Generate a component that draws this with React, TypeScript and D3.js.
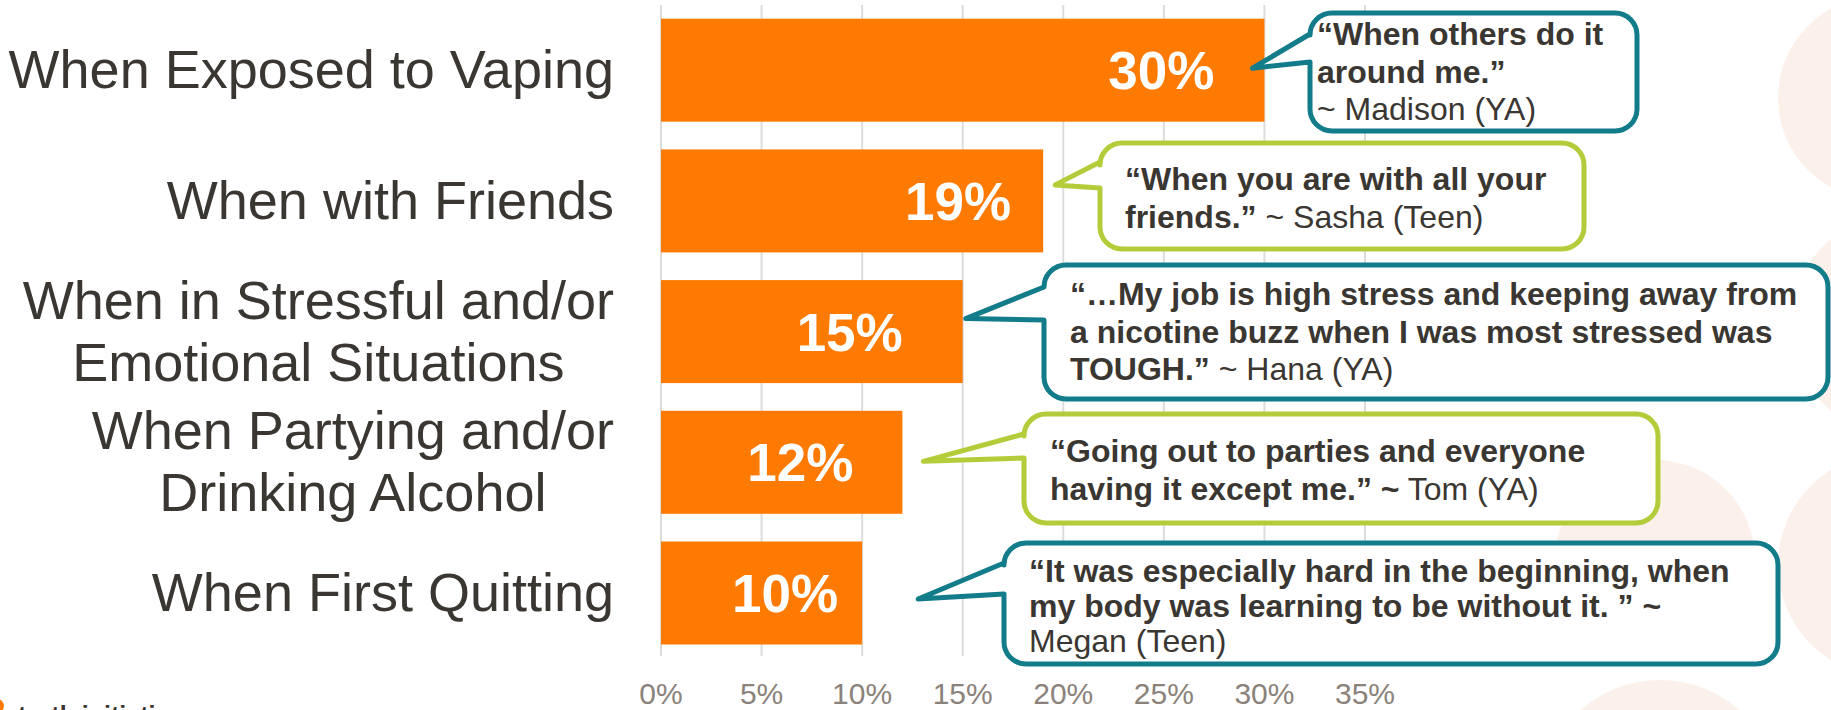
import React from "react";
import * as d3 from "d3";

// ---------- data ----------
const categories: string[][] = [
  ["When Exposed to Vaping"],
  ["When with Friends"],
  ["When in Stressful and/or", "Emotional Situations"],
  ["When Partying and/or", "Drinking Alcohol"],
  ["When First Quitting"],
];
const values = [30, 19, 15, 12, 10];
const tickValues = [0, 5, 10, 15, 20, 25, 30, 35];
const tickLabels = ["0%", "5%", "10%", "15%", "20%", "25%", "30%", "35%"];

type Seg = { t: string; b: boolean };
const quote1: Seg[][] = [
  [{ t: "\u201CWhen others do it", b: true }],
  [{ t: "around me.\u201D", b: true }],
  [{ t: "~ Madison (YA)", b: false }],
];
const quote2: Seg[][] = [
  [{ t: "\u201CWhen you are with all your", b: true }],
  [{ t: "friends.\u201D", b: true }, { t: " ~ Sasha (Teen)", b: false }],
];
const quote3: Seg[][] = [
  [{ t: "\u201C\u2026My job is high stress and keeping away from", b: true }],
  [{ t: "a nicotine buzz when I was most stressed was", b: true }],
  [{ t: "TOUGH.\u201D", b: true }, { t: " ~ Hana (YA)", b: false }],
];
const quote4: Seg[][] = [
  [{ t: "\u201CGoing out to parties and everyone", b: true }],
  [{ t: "having it except me.\u201D ~", b: true }, { t: " Tom (YA)", b: false }],
];
const quote5: Seg[][] = [
  [{ t: "\u201CIt was especially hard in the beginning, when", b: true }],
  [{ t: "my body was learning to be without it. \u201D ~", b: true }],
  [{ t: "Megan (Teen)", b: false }],
];
const quotes = [quote1, quote2, quote3, quote4, quote5];
const quoteColors = ["#137c8b", "#b3cc3a", "#137c8b", "#b3cc3a", "#137c8b"];

// ---------- layout ----------
const W = 1831;
const H = 710;
const FONT = "'Liberation Sans', Arial, Helvetica, sans-serif";
const TEXT = "#3a3632";
const ORANGE = "#ff7a00";

// callout boxes: [x0, y0, x1, y1], pointer base [yUpper, yLower], tip offset from bar end/center, text x, first baseline, line height
const calloutLayout = [
  { box: [1310, 13, 1637, 131], base: [34, 62], tip: [-12, -2], tx: 1317, ty: 45, lh: 37.5 },
  { box: [1100, 143, 1584, 249], base: [162, 188], tip: [12, -16], tx: 1125, ty: 190, lh: 38 },
  { box: [1044, 265, 1828, 399], base: [287, 320], tip: [3, -13], tx: 1070, ty: 305, lh: 37.5 },
  { box: [1024, 414, 1658, 523], base: [434, 458], tip: [21, -1], tx: 1050, ty: 462, lh: 38 },
  { box: [1004, 543, 1778, 664], base: [563, 594], tip: [56, 6], tx: 1029, ty: 582, lh: 35 },
];
const labelNudge = [-50, -32, -60, -49, -24];

const bgCircles = [
  { cx: 1880, cy: 98, r: 102 },
  { cx: 1900, cy: 325, r: 110 },
  { cx: 1655, cy: 560, r: 100 },
  { cx: 1890, cy: 565, r: 112 },
  { cx: 1660, cy: 800, r: 120 },
];

let measureCtx: CanvasRenderingContext2D | null = null;
function measure(text: string, font: string): number {
  if (!measureCtx) {
    const c = document.createElement("canvas");
    measureCtx = c.getContext("2d");
  }
  if (!measureCtx) return text.length * 25;
  measureCtx.font = font;
  return measureCtx.measureText(text).width;
}

function calloutPath(box: number[], base: number[], tip: number[], r: number) {
  const [x0, y0, x1, y1] = box;
  const p = d3.path();
  p.moveTo(x0 + r, y0);
  p.lineTo(x1 - r, y0);
  p.arcTo(x1, y0, x1, y0 + r, r);
  p.lineTo(x1, y1 - r);
  p.arcTo(x1, y1, x1 - r, y1, r);
  p.lineTo(x0 + r, y1);
  p.arcTo(x0, y1, x0, y1 - r, r);
  p.lineTo(x0, base[1]);
  p.lineTo(tip[0], tip[1]);
  p.lineTo(x0, base[0]);
  p.lineTo(x0, y0 + r);
  p.arcTo(x0, y0, x0 + r, y0, r);
  p.closePath();
  return p.toString();
}

export default function App() {
  const x = d3.scaleLinear().domain([0, 35]).range([661, 1365]);
  const y = d3
    .scaleBand<number>()
    .domain(d3.range(values.length))
    .range([18.7, 644.5])
    .paddingInner(0.212)
    .paddingOuter(0);
  const bw = y.bandwidth();

  const catFontSize = 54;
  const catFont = `${catFontSize}px ${FONT}`;
  const catRight = 614;
  const catLH = 62;

  return (
    <svg
      width={W}
      height={H}
      style={{ position: "absolute", left: 0, top: 0, background: "#fff" }}
      fontFamily={FONT}
    >
      <rect x={0} y={0} width={W} height={H} fill="#ffffff" />
      {bgCircles.map((c, i) => (
        <circle key={i} cx={c.cx} cy={c.cy} r={c.r} fill="#fcf0ea" />
      ))}

      {/* gridlines */}
      {tickValues.map((t, i) => (
        <line
          key={i}
          x1={x(t)}
          x2={x(t)}
          y1={5}
          y2={656}
          stroke="#dcdcdc"
          strokeWidth={2}
        />
      ))}

      {/* tick labels */}
      {tickValues.map((t, i) => (
        <text
          key={i}
          x={x(t)}
          y={704}
          textAnchor="middle"
          fontSize={30}
          fill="#8a827b"
        >
          {tickLabels[i]}
        </text>
      ))}

      {/* bars */}
      {values.map((v, i) => (
        <rect
          key={i}
          x={x(0)}
          y={y(i)}
          width={x(v) - x(0)}
          height={bw}
          fill={ORANGE}
        />
      ))}

      {/* data labels */}
      {values.map((v, i) => (
        <text
          key={i}
          x={x(v) + labelNudge[i]}
          y={(y(i) as number) + bw / 2}
          dy="0.36em"
          textAnchor="end"
          fontSize={53}
          fontWeight="bold"
          fill="#ffffff"
        >
          {`${v}%`}
        </text>
      ))}

      {/* category labels */}
      {categories.map((lines, i) => {
        const maxW = Math.max(...lines.map((l) => measure(l, catFont)));
        const cx = catRight - maxW / 2;
        const cy = (y(i) as number) + bw / 2;
        return (
          <text
            key={i}
            textAnchor="middle"
            fontSize={catFontSize}
            fill={TEXT}
          >
            {lines.map((l, j) => (
              <tspan
                key={j}
                x={cx}
                y={cy + (j - (lines.length - 1) / 2) * catLH + 18}
              >
                {l}
              </tspan>
            ))}
          </text>
        );
      })}

      {/* callouts */}
      {quotes.map((q, i) => {
        const L = calloutLayout[i];
        const tip = [
          x(values[i]) + L.tip[0],
          (y(i) as number) + bw / 2 + L.tip[1],
        ];
        return (
          <g key={i}>
            <path
              d={calloutPath(L.box, L.base, tip, 22)}
              fill="#ffffff"
              stroke={quoteColors[i]}
              strokeWidth={5}
              strokeLinejoin="round"
            />
            <text fontSize={32} fill={TEXT}>
              {q.map((line, j) => (
                <tspan key={j} x={L.tx} y={L.ty + j * L.lh}>
                  {line.map((s, k) => (
                    <tspan key={k} fontWeight={s.b ? "bold" : "normal"}>
                      {s.t}
                    </tspan>
                  ))}
                </tspan>
              ))}
            </text>
          </g>
        );
      })}

      {/* logo remnant at bottom-left (cut off by the slide edge, as in the reference) */}
      <circle cx={-3} cy={706} r={7} fill={ORANGE} />
      <text x={18} y={724} fontSize={25} fontWeight="bold" fill={TEXT}>
        truth initiative
      </text>
    </svg>
  );
}
